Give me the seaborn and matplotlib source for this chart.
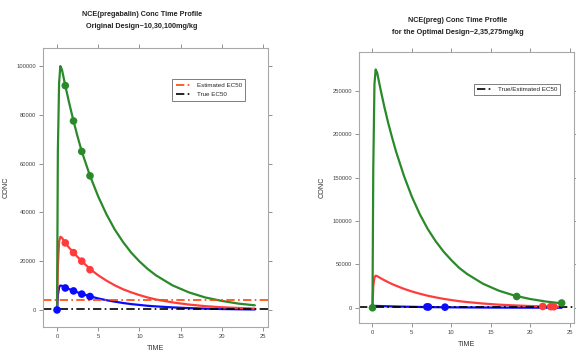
import numpy as np
import pandas as pd
import seaborn as sns
import matplotlib.pyplot as plt
from matplotlib.lines import Line2D

# time grid shared by all simulated curves
time = [0, 0.1, 0.25, 0.4, 0.6, 1, 1.5, 2, 2.5, 3, 4, 5, 6, 7, 8, 9, 10, 11, 12,
        14, 16, 18, 20, 22, 24]

# original design 10, 30, 100 mg/kg
orig_low = [0, 6000, 9300, 10000, 9900, 9200, 8500, 7800, 7200, 6600, 5600, 4700, 4000,
            3400, 2850, 2400, 2050, 1700, 1450, 1050, 750, 520, 380, 270, 190]
orig_mid = [0, 18000, 28000, 30000, 29600, 27500, 25400, 23500, 21700, 20000, 16800, 14200,
            12000, 10100, 8500, 7200, 6100, 5100, 4300, 3100, 2200, 1550, 1100, 800, 550]
orig_high = [0, 65000, 93000, 100000, 98500, 92000, 84500, 77500, 71000, 65000, 55000, 46500,
             39200, 33000, 27900, 23500, 19900, 16800, 14200, 10100, 7200, 5100, 3700,
             2600, 1900]

# sampling points, original design
orig_obs_t = [0, 1, 2, 3, 4, 1, 2, 3, 4, 1, 2, 3, 4]
orig_obs_c = [0, 9000, 7800, 6500, 5500, 27500, 23500, 20000, 16500,
              92000, 77500, 65000, 55000]
orig_obs_g = ['low'] * 5 + ['mid'] * 4 + ['high'] * 4

# optimal design 2, 35, 275 mg/kg
opt_low = [0, 1400, 2000, 2100, 2080, 1950, 1800, 1680, 1560, 1450, 1250, 1070, 920, 800,
           690, 590, 510, 440, 380, 280, 210, 150, 115, 85, 60]
opt_mid = [0, 25000, 35000, 37000, 36500, 34300, 31800, 29500, 27300, 25400, 21800, 18800,
           16200, 13900, 12000, 10300, 8900, 7600, 6600, 4900, 3600, 2700, 2000, 1500, 1100]
opt_high = [0, 160000, 258000, 275000, 271000, 253000, 232000, 213000, 196000, 180000, 152000,
            128000, 108000, 91000, 77000, 65000, 55000, 46000, 39000, 27800, 19800,
            14100, 10100, 7200, 5100]

opt_obs_t = [0, 6.9, 7.1, 9.2, 21.6, 22.6, 23.0, 18.3, 24.0]
opt_obs_c = [0, 1000, 950, 700, 1500, 1300, 1200, 13000, 5500]
opt_obs_g = ['high', 'low', 'low', 'low', 'mid', 'mid', 'mid', 'high', 'high']

ec50_est = 4000
ec50_true = 200
ec50_opt = 1000

palette = {'low': '#0a0aff', 'mid': '#ff3c3c', 'high': '#2a8a2a'}
dashdot = (0, (5, 2, 1, 2))

sns.set_style("white")
plt.rcParams['font.family'] = ['Liberation Sans', 'DejaVu Sans']


def curves_df(lo, mi, hi):
    return pd.DataFrame({
        'TIME': time * 3,
        'CONC': lo + mi + hi,
        'dose': ['low'] * len(time) + ['mid'] * len(time) + ['high'] * len(time),
    })


def style_axes(ax):
    for s in ax.spines.values():
        s.set_color('#a8a8a8')
        s.set_linewidth(0.8)
    ax.tick_params(axis='both', which='both', direction='out', length=3, width=0.6,
                   color='#808080', labelsize=4.2, labelcolor='#444444',
                   top=True, right=True, left=True, bottom=True,
                   labeltop=False, labelright=False, pad=2)
    ax.set_xlabel('TIME', fontsize=5.2, color='#333333', labelpad=4)
    ax.set_ylabel('CONC', fontsize=5.2, color='#333333', labelpad=5)


fig = plt.figure(figsize=(5.76, 3.5), dpi=100)
ax1 = fig.add_axes([0.0747, 0.0657, 0.3906, 0.797])
ax2 = fig.add_axes([0.623, 0.0771, 0.374, 0.774])

# left panel
sns.lineplot(data=curves_df(orig_low, orig_mid, orig_high), x='TIME', y='CONC',
             hue='dose', palette=palette, linewidth=1.6, legend=False, ax=ax1)
sns.scatterplot(x=orig_obs_t, y=orig_obs_c, hue=orig_obs_g, palette=palette,
                s=30, edgecolor='none', legend=False, ax=ax1, zorder=5)
ax1.axhline(ec50_est, color='#ff4500', linestyle=dashdot, linewidth=1.2)
ax1.axhline(ec50_true, color='black', linestyle=dashdot, linewidth=1.2)
ax1.set_xlim(-1.7, 25.6)
ax1.set_ylim(-7000, 107400)
ax1.set_xticks([0, 5, 10, 15, 20, 25])
ax1.set_yticks([0, 20000, 40000, 60000, 80000, 100000])
style_axes(ax1)
h1 = [Line2D([], [], color='#ff4500', linestyle=dashdot, linewidth=1.2),
      Line2D([], [], color='black', linestyle=dashdot, linewidth=1.2)]
leg1 = ax1.legend(h1, ['Estimated EC50', 'True EC50'], loc='upper left',
                  bbox_to_anchor=(0.56, 0.9), fontsize=4.5, frameon=True,
                  fancybox=False, handlelength=2.5, borderpad=0.6, labelspacing=0.6)
leg1.get_frame().set_edgecolor('#444444')
leg1.get_frame().set_linewidth(0.6)

# right panel
sns.lineplot(data=curves_df(opt_low, opt_mid, opt_high), x='TIME', y='CONC',
             hue='dose', palette=palette, linewidth=1.6, legend=False, ax=ax2)
sns.scatterplot(x=opt_obs_t, y=opt_obs_c, hue=opt_obs_g, palette=palette,
                s=30, edgecolor='none', legend=False, ax=ax2, zorder=5)
ax2.axhline(ec50_opt, color='black', linestyle=dashdot, linewidth=1.2)
ax2.set_xlim(-1.73, 25.6)
ax2.set_ylim(-17600, 295000)
ax2.set_xticks([0, 5, 10, 15, 20, 25])
ax2.set_yticks([0, 50000, 100000, 150000, 200000, 250000])
style_axes(ax2)
h2 = [Line2D([], [], color='black', linestyle=dashdot, linewidth=1.2)]
leg2 = ax2.legend(h2, ['True/Estimated EC50'], loc='upper left',
                  bbox_to_anchor=(0.52, 0.895), fontsize=4.5, frameon=True,
                  fancybox=False, handlelength=2.5, borderpad=0.5)
leg2.get_frame().set_edgecolor('#444444')
leg2.get_frame().set_linewidth(0.6)

# titles
fig.text(142 / 576, 1 - 15 / 350, 'NCE(pregabalin) Conc Time Profile',
         ha='center', va='center', fontsize=5.2, fontweight='bold', color='#222222')
fig.text(142 / 576, 1 - 27 / 350, 'Original Design~10,30,100mg/kg',
         ha='center', va='center', fontsize=5.2, fontweight='bold', color='#222222')
fig.text(458 / 576, 1 - 21 / 350, 'NCE(preg) Conc Time Profile',
         ha='center', va='center', fontsize=5.2, fontweight='bold', color='#222222')
fig.text(458 / 576, 1 - 32 / 350, 'for the Optimal Design~2,35,275mg/kg',
         ha='center', va='center', fontsize=5.2, fontweight='bold', color='#222222')

fig.savefig('out.png', dpi=100)
